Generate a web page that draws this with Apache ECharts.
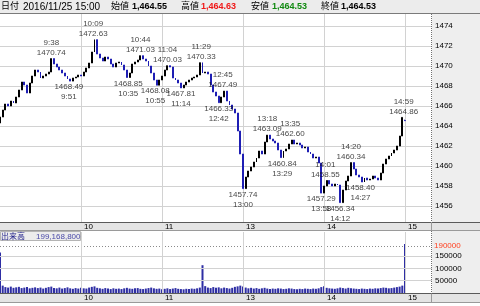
<!DOCTYPE html>
<html>
<head>
<meta charset="utf-8">
<script src="https://cdn.jsdelivr.net/npm/echarts@6/dist/echarts.min.js"></script>
<style>
html, body { margin: 0; padding: 0; background: #fff; }
#chart { width: 480px; height: 306px; }
</style>
</head>
<body>
<div id="chart"></div>
<script>
// 2分足の終値 (9:00 - 14:58)
var dateLabel = '2016/11/25 15:00';
var firstOpen = 1464.3;
var closes = [
  1464.9, 1465.6, 1466.2, 1466.0, 1466.5, 1466.3, 1466.9, 1467.6, 1468.4, 1468.1,
  1467.3, 1468.3, 1469.0, 1469.6, 1469.4, 1468.8, 1469.0, 1469.2, 1469.4, 1470.74,
  1470.2, 1469.9, 1469.6, 1469.3, 1469.0, 1468.7, 1468.49, 1468.8, 1468.9, 1469.1,
  1469.0, 1469.4, 1469.8, 1470.3, 1471.4, 1472.63, 1471.2, 1470.8, 1470.5, 1470.9,
  1470.7, 1470.2, 1469.9, 1470.3, 1470.4, 1470.1, 1469.6, 1468.85, 1469.3, 1470.2,
  1470.4, 1470.6, 1471.03, 1470.7, 1470.5, 1470.0, 1469.3, 1468.6, 1468.08, 1468.6,
  1469.0, 1469.6, 1470.03, 1469.9, 1468.8, 1468.6, 1468.3, 1467.81, 1468.1, 1468.4,
  1468.6, 1468.8, 1468.9, 1469.1, 1470.33, 1469.3, 1469.4, 1469.2, 1468.1, 1467.4,
  1467.0, 1466.33, 1466.9, 1467.49, 1466.5, 1466.1, 1465.7, 1465.3, 1463.5, 1461.2,
  1457.74, 1458.9, 1459.5, 1459.9, 1460.4, 1460.8, 1461.5, 1461.2, 1462.4, 1463.09,
  1462.7, 1462.5, 1462.3, 1461.6, 1460.84, 1461.5, 1461.7, 1462.2, 1462.60, 1462.2,
  1462.3, 1462.1, 1461.8, 1461.9, 1461.4, 1461.2, 1460.8, 1460.9, 1460.3, 1457.29,
  1458.0, 1458.55, 1458.2, 1458.0, 1458.2, 1458.1, 1456.34, 1457.6, 1458.5, 1459.0,
  1460.34, 1459.7, 1459.1, 1458.9, 1458.40, 1458.8, 1458.6, 1458.7, 1459.0, 1458.8,
  1458.6, 1459.3, 1460.2, 1460.7, 1461.0, 1461.3, 1461.6, 1462.0, 1463.0, 1464.86
];
// 15:00 の足 (始値, 高値, 安値, 終値)
var lastBar = [1464.55, 1464.63, 1464.53, 1464.53];
var lastVolume = 199168800;

// 出来高 (千株)
var volumes = [
  165000, 30000, 24000, 22000, 26000, 21000, 23000, 25000, 20000, 22000, 24000, 19000, 21000, 23000, 20000,
  22000, 18000, 21000, 24000, 26000, 20000, 19000, 22000, 18000, 20000, 23000, 19000, 17000, 20000, 18000,
  21000, 19000, 18000, 22000, 25000, 27000, 21000, 19000, 17000, 20000, 18000, 16000, 19000, 17000, 18000,
  16000, 19000, 21000, 18000, 17000, 19000, 20000, 17000, 16000, 18000, 20000, 22000, 19000, 17000, 18000,
  15000, 17000, 19000, 16000, 18000, 20000, 17000, 16000, 15000, 17000, 16000, 18000, 17000, 19000, 22000,
  113000, 28000, 22000, 20000, 24000, 21000, 23000, 19000, 22000, 20000, 18000, 21000, 25000, 27000, 30000,
  26000, 22000, 19000, 21000, 18000, 20000, 17000, 19000, 21000, 18000, 16000, 18000, 17000, 19000, 18000,
  16000, 17000, 19000, 18000, 16000, 15000, 17000, 16000, 18000, 17000, 16000, 18000, 17000, 19000, 24000,
  27000, 21000, 19000, 18000, 17000, 19000, 22000, 20000, 18000, 21000, 19000, 18000, 17000, 16000, 18000,
  17000, 16000, 18000, 17000, 19000, 18000, 20000, 22000, 21000, 19000, 20000, 22000, 24000, 26000, 30000
];

var hourTicks = ['10:00', '11:00', '13:00', '14:00', '15:00'];
var volGridLines = [50000, 100000, 150000];
var volRefLine = 190000;

var highTimes = ['9:38', '10:09', '10:44', '11:04', '11:29', '12:45', '13:18', '13:35', '14:01', '14:20', '14:59'];
var highValues = [1470.74, 1472.63, 1471.03, 1470.03, 1470.33, 1467.49, 1463.09, 1462.60, 1458.55, 1460.34, 1464.86];
var lowTimes = ['9:51', '10:35', '10:55', '11:14', '12:42', '13:00', '13:29', '13:58', '14:12', '14:27'];
var lowValues = [1468.49, 1468.85, 1468.08, 1467.81, 1466.33, 1457.74, 1460.84, 1457.29, 1456.34, 1458.40];

var FONT = "'Liberation Sans', 'Noto Sans CJK JP', sans-serif";
var UP = '#000000';
var DOWN = '#1e1eb4';

// 取引時間の経過分 (昼休みを詰める)
function tradeMin(t) {
  var p = t.split(':');
  var m = +p[0] * 60 + +p[1];
  return m <= 690 ? m - 540 : m - 750 + 150;
}
function fmtNum(v, d) {
  var s = v.toFixed(d).split('.');
  s[0] = s[0].replace(/\B(?=(\d{3})+(?!\d))/g, ',');
  return s.join('.');
}

var slotCount = 161;
var cats = [];
for (var k = 0; k < slotCount; k++) {
  var tm = 2 * k;
  var m = tm < 150 ? 540 + tm : 600 + tm;
  cats.push(Math.floor(m / 60) + ':' + String(m % 60).padStart(2, '0'));
}
var tickIdx = hourTicks.map(function (t) { return tradeMin(t) / 2; });
function isTick(i) { return tickIdx.indexOf(i) >= 0; }

var candles = closes.map(function (c, i) {
  var o = i === 0 ? firstOpen : closes[i - 1];
  return [o, c, Math.min(o, c), Math.max(o, c)];
});
candles.push([lastBar[0], lastBar[3], lastBar[2], lastBar[1]]);
var volData = volumes.concat([lastVolume / 1000]);

var highPts = highTimes.map(function (t, i) { return [tradeMin(t), highValues[i], t]; });
var lowPts = lowTimes.map(function (t, i) { return [tradeMin(t), lowValues[i], t]; });

var chart = echarts.init(document.getElementById('chart'));

var stripLabel = {
  show: true,
  interval: function (i) { return isTick(i); },
  formatter: function (v) { return v.split(':')[0]; },
  fontSize: 8,
  color: '#000',
  align: 'left',
  padding: [0, 0, 0, 3],
  fontFamily: FONT
};

function hdr(text, x, opt) {
  opt = opt || {};
  return {
    type: 'text', x: x, y: 7, z: 52,
    style: {
      text: text,
      fill: opt.color || '#000',
      font: (opt.bold ? 'bold ' : '') + (opt.size || 9) + 'px ' + FONT,
      verticalAlign: 'middle'
    }
  };
}

var option = {
  animation: false,
  textStyle: { fontFamily: FONT },
  grid: [
    { left: 0, width: 432, top: 6, height: 220, containLabel: false, outerBoundsMode: 'none' },
    { left: 0, width: 432, top: 232, height: 61, containLabel: false, outerBoundsMode: 'none' }
  ],
  xAxis: [
    {
      type: 'category', gridIndex: 0, data: cats, boundaryGap: false,
      axisLine: { show: false }, axisTick: { show: false }, axisLabel: { show: false },
      splitLine: { show: true, interval: function (i) { return isTick(i); }, lineStyle: { color: '#d2d2d2', width: 1 } }
    },
    {
      type: 'category', gridIndex: 1, data: cats, boundaryGap: false, position: 'bottom', z: 60,
      axisLine: { show: false }, axisTick: { show: false },
      axisLabel: Object.assign({ margin: 1 }, stripLabel),
      splitLine: { show: true, interval: function (i) { return isTick(i); }, lineStyle: { color: '#d2d2d2', width: 1 } }
    },
    {
      type: 'category', gridIndex: 1, data: cats, boundaryGap: false, position: 'top', z: 60,
      axisLine: { show: false }, axisTick: { show: false },
      axisLabel: Object.assign({ margin: 1 }, stripLabel),
      splitLine: { show: false }
    },
    { type: 'value', gridIndex: 0, min: 0, max: 320, show: false }
  ],
  yAxis: [
    {
      type: 'value', gridIndex: 0, position: 'right', min: 1454, max: 1476, interval: 2,
      axisLine: { show: false }, axisTick: { show: false },
      axisLabel: {
        margin: 3, fontSize: 8, color: '#000', showMinLabel: false, showMaxLabel: false,
        formatter: function (v) { return String(v); }
      },
      splitLine: { lineStyle: { color: '#d2d2d2', width: 1 } }
    },
    {
      type: 'value', gridIndex: 1, position: 'right', min: 0, max: 248000, interval: 50000,
      axisLine: { show: false }, axisTick: { show: false },
      axisLabel: {
        margin: 3, fontSize: 8, color: '#000',
        formatter: function (v) { return volGridLines.indexOf(v) >= 0 ? String(v) : ''; }
      },
      splitLine: { show: false }
    }
  ],
  series: [
    {
      type: 'candlestick', xAxisIndex: 0, yAxisIndex: 0, data: candles,
      barWidth: 1.4, silent: true,
      itemStyle: { color: UP, color0: DOWN, borderColor: UP, borderColor0: DOWN, borderWidth: 1 }
    },
    {
      type: 'scatter', xAxisIndex: 3, yAxisIndex: 0, data: highPts, symbolSize: 0, silent: true,
      label: {
        show: true, position: 'top', distance: 1, fontSize: 8, lineHeight: 10, color: '#111',
        formatter: function (p) { return p.data[2] + '\n' + p.data[1].toFixed(2); }
      }
    },
    {
      type: 'scatter', xAxisIndex: 3, yAxisIndex: 0, data: lowPts, symbolSize: 0, silent: true,
      label: {
        show: true, position: 'bottom', distance: 1, fontSize: 8, lineHeight: 10, color: '#111',
        formatter: function (p) { return p.data[1].toFixed(2) + '\n' + p.data[2]; }
      }
    },
    {
      type: 'bar', xAxisIndex: 1, yAxisIndex: 1, data: volData, barWidth: 2, silent: true,
      itemStyle: { color: '#2e2ea4' },
      markLine: {
        silent: true, symbol: 'none', animation: false,
        data: volGridLines.map(function (v) {
          return { yAxis: v, lineStyle: { color: '#d2d2d2', type: 'solid', width: 1 }, label: { show: false } };
        }).concat([{
          yAxis: volRefLine,
          lineStyle: { color: '#8a8a8a', type: [1, 2], width: 1 },
          label: { show: true, position: 'end', distance: 2, formatter: String(volRefLine), color: '#ff4020', fontSize: 8 }
        }])
      }
    }
  ],
  graphic: [
    // 右側の目盛り欄
    { type: 'rect', z: -10, shape: { x: 432, y: 14, width: 48, height: 208 }, style: { fill: '#eeeeee' } },
    { type: 'rect', z: -10, shape: { x: 432, y: 231, width: 48, height: 63 }, style: { fill: '#eeeeee' } },
    { type: 'line', z: 5, shape: { x1: 431.5, y1: 14, x2: 431.5, y2: 222 }, style: { stroke: '#707070', lineWidth: 1, lineDash: [1, 1] } },
    { type: 'line', z: 5, shape: { x1: 431.5, y1: 231, x2: 431.5, y2: 294 }, style: { stroke: '#707070', lineWidth: 1, lineDash: [1, 1] } },
    // ヘッダー
    { type: 'rect', z: 50, shape: { x: 0, y: 0, width: 480, height: 13 }, style: { fill: '#ececec' } },
    { type: 'line', z: 51, shape: { x1: 0, y1: 13.5, x2: 480, y2: 13.5 }, style: { stroke: '#7a7a7a', lineWidth: 1 } },
    hdr('日付', 1),
    hdr(dateLabel, 23, { size: 10 }),
    hdr('始値', 111),
    hdr(fmtNum(lastBar[0], 2), 132, { bold: true }),
    hdr('高値', 181),
    hdr(fmtNum(lastBar[1], 2), 201, { bold: true, color: '#f01818' }),
    hdr('安値', 251),
    hdr(fmtNum(lastBar[2], 2), 272, { bold: true, color: '#108a10' }),
    hdr('終値', 321),
    hdr(fmtNum(lastBar[3], 2), 341, { bold: true }),
    // 時間軸の帯 (上)
    { type: 'rect', z: 50, shape: { x: 0, y: 222, width: 480, height: 9 }, style: { fill: '#e4e4e4' } },
    { type: 'line', z: 51, shape: { x1: 0, y1: 222.5, x2: 480, y2: 222.5 }, style: { stroke: '#5a5a5a', lineWidth: 1 } },
    { type: 'line', z: 51, shape: { x1: 0, y1: 230.5, x2: 480, y2: 230.5 }, style: { stroke: '#9a9a9a', lineWidth: 1 } },
    { type: 'line', z: 51, shape: { x1: 431.5, y1: 222, x2: 431.5, y2: 231 }, style: { stroke: '#9a9a9a', lineWidth: 1 } },
    // 出来高の見出し
    { type: 'rect', z: 50, shape: { x: 0.5, y: 231.5, width: 80, height: 9 }, style: { fill: '#ececec', stroke: '#b4b4b4', lineWidth: 1 } },
    {
      type: 'text', z: 52, x: 1, y: 236.5,
      style: { text: '出来高', fill: '#22228a', font: '8px ' + FONT, verticalAlign: 'middle' }
    },
    {
      type: 'text', z: 52, x: 36, y: 236.5,
      style: { text: fmtNum(lastVolume, 0), fill: '#4a4aa8', font: '8px ' + FONT, verticalAlign: 'middle' }
    },
    // 時間軸の帯 (下)
    { type: 'rect', z: 50, shape: { x: 0, y: 293.5, width: 480, height: 9 }, style: { fill: '#e4e4e4' } },
    { type: 'line', z: 51, shape: { x1: 0, y1: 293.5, x2: 480, y2: 293.5 }, style: { stroke: '#5a5a5a', lineWidth: 1 } },
    { type: 'line', z: 51, shape: { x1: 0, y1: 302.5, x2: 480, y2: 302.5 }, style: { stroke: '#9a9a9a', lineWidth: 1 } },
    { type: 'line', z: 51, shape: { x1: 431.5, y1: 293.5, x2: 431.5, y2: 302.5 }, style: { stroke: '#9a9a9a', lineWidth: 1 } }
  ]
};

chart.setOption(option);
</script>
</body>
</html>
